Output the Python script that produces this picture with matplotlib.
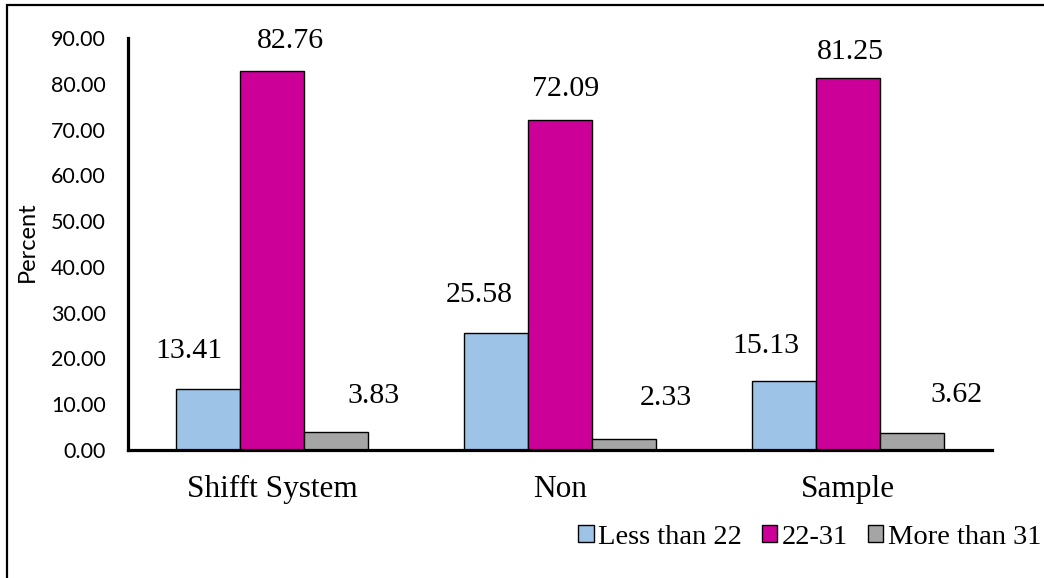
import matplotlib.pyplot as plt
import numpy as np
from matplotlib.patches import Rectangle

groups = ['Shifft System', 'Non', 'Sample']
series = ['Less than 22', '22-31', 'More than 31']
less_22 = [13.41, 25.58, 15.13]
mid_22_31 = [82.76, 72.09, 81.25]
more_31 = [3.83, 2.33, 3.62]
yticks = [0, 10, 20, 30, 40, 50, 60, 70, 80, 90]

colors = ['#9DC3E6', '#CC0099', '#A5A5A5']
# hand-placed label offsets (points) relative to each bar's top centre
label_dx = [[-14, -12, -13], [13, 4, 2], [27, 30, 32]]
label_dy = [[27, 27, 25], [22, 22, 19], [26, 30, 28]]

fig = plt.figure(figsize=(10.44, 5.78), dpi=100)
ax = fig.add_axes([128/1044, 1-450/578, 864/1044, 412/578])

# outer chart frame
fig.patches.append(Rectangle((7/1044, -0.1), 1.2, 1-5/578+0.1, transform=fig.transFigure,
                             fill=False, edgecolor='black', linewidth=1.6))

x = np.arange(len(groups))
w = 64/288
handles = []
for i, vals in enumerate([less_22, mid_22_31, more_31]):
    bars = ax.bar(x + (i-1)*w, vals, width=w, color=colors[i], edgecolor='black',
                  linewidth=1.0, label=series[i], zorder=2)
    handles.append(bars)
    for j, b in enumerate(bars):
        ax.annotate(f'{vals[j]:.2f}', (b.get_x()+b.get_width()/2, b.get_height()),
                    xytext=(label_dx[i][j], label_dy[i][j]), textcoords='offset points',
                    ha='center', va='center', fontsize=21.5, family='Liberation Serif')

ax.set_xlim(-0.5, 2.5)
ax.set_ylim(0, 90)
ax.set_yticks(yticks)
ax.set_yticklabels([f'{v:.2f}' for v in yticks], family='Lato', fontsize=15.5)
ax.set_xticks(x)
ax.set_xticklabels(groups, family='Liberation Serif', fontsize=22.5)
ax.tick_params(axis='y', length=0, pad=16)
ax.tick_params(axis='x', length=0, pad=18)
for s in ['top', 'right']:
    ax.spines[s].set_visible(False)
for s in ['left', 'bottom']:
    ax.spines[s].set_linewidth(2.3)

fig.text(27/1044, 1-242/578, 'Percent', rotation=90, ha='center', va='center',
         family='Lato', fontsize=17)

fig.legend(handles=handles, labels=series, loc='center right',
           bbox_to_anchor=(1041/1044, 1-537/578), frameon=False, ncol=3,
           prop={'family': 'Liberation Serif', 'size': 20.5},
           handlelength=0.55, handleheight=0.55, handletextpad=0.15,
           columnspacing=0.7, borderpad=0, borderaxespad=0)

fig.savefig('out.png', dpi=100)
